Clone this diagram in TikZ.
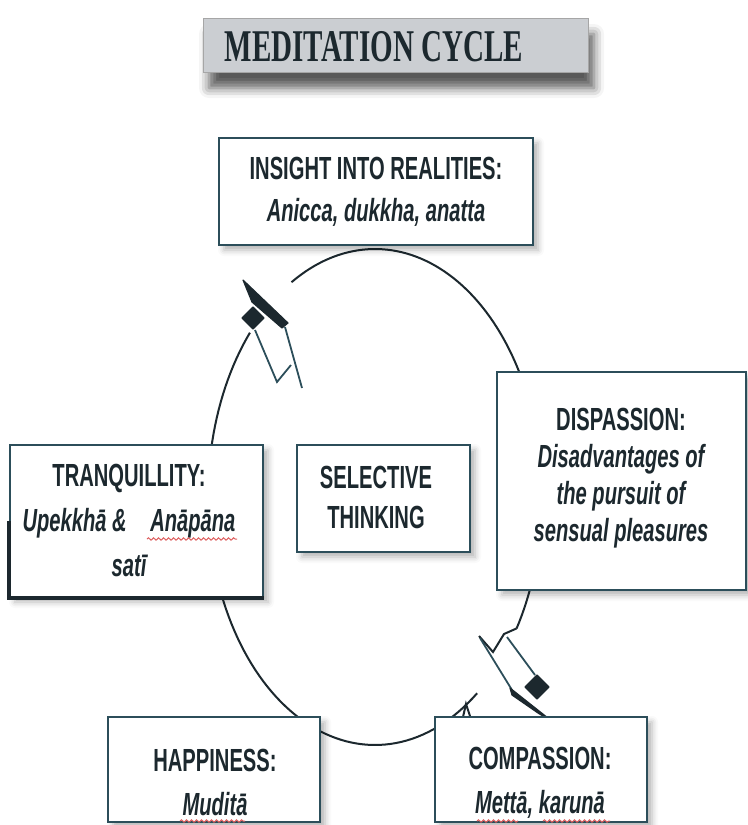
\documentclass[tikz,border=0pt]{standalone}
\usepackage{fontspec}
\newfontfamily\boxfont[FakeStretch=0.63]{Liberation Sans}
\newfontfamily\titlefont[FakeStretch=0.64]{Liberation Serif}
\usetikzlibrary{shadows.blur,decorations.pathmorphing}
\definecolor{inkdark}{RGB}{28,40,46}
\definecolor{boxline}{RGB}{44,78,90}
\definecolor{titlegray}{RGB}{203,206,210}
\definecolor{squiggle}{RGB}{222,96,96}

\begin{document}
\begin{tikzpicture}[x=0.5pt,y=-0.5pt,
  box/.style={draw=boxline,line width=1pt,fill=white,rectangle,inner sep=0pt,
    blur shadow={shadow xshift=2.5pt,shadow yshift=-2.5pt,shadow opacity=30,shadow blur radius=3pt}},
  txt/.style={align=center,text=inkdark,inner sep=0pt,font=\boxfont\bfseries\fontsize{16}{21}\selectfont},
  ring/.style={draw=inkdark,line width=1pt},
  headfill/.style={fill=inkdark,draw=inkdark,line width=0.6pt,line join=round},
  shaft/.style={draw=boxline,line width=0.9pt},
  spell/.style={draw=squiggle,line width=0.5pt,decorate,
    decoration={snake,amplitude=0.6pt,segment length=2.5pt}}]
\useasboundingbox (0,0) rectangle (748,825);

% title
\node[draw=gray!70,fill=titlegray,minimum width=192.5pt,minimum height=27pt,
  blur shadow={shadow xshift=3pt,shadow yshift=-8pt,shadow opacity=65,shadow blur radius=5pt}]
  (title) at (395.5,45) {};
\node[text=inkdark,font=\titlefont\bfseries\fontsize{22.7}{26}\selectfont] (titletext) at (374,47) {MEDITATION CYCLE};

% the cycle
\draw[ring] plot[domain=240:392,samples=90] ({375+167*cos(\x)},{497+248*sin(\x)}) coordinate (ringend);
\draw[ring] plot[domain=52.3:221.5,samples=90] ({375+167*cos(\x)},{497+248*sin(\x)});

% upper left arrow
\fill[headfill] (243,280) -- (288,323) -- (282,328) -- (252,302) -- cycle;
\fill[headfill] (253,307) -- (264,318) -- (253,329) -- (242,318) -- cycle;
\draw[shaft] (255,330) -- (277,382) -- (291,365);
\draw[shaft] (285,327) -- (302,388);

% lower right arrow
\draw[ring] (ringend) -- (504,634) -- (493,652) -- (479,636);
\draw[shaft] (480,638) -- (512,690);
\draw[shaft] (507,637) -- (535,675);
\fill[headfill] (537,675) -- (549,687) -- (537,699) -- (525,687) -- cycle;
\fill[headfill] (510,688) -- (553,722) -- (538,713) -- (512,695) -- cycle;
\draw[ring] (463,717) -- (466,704) -- (470,716);

% boxes
\node[box,minimum width=157pt,minimum height=53.5pt] (insight) at (376,191.5) {};
\node[txt] (insightT) at (insight) {INSIGHT INTO REALITIES:\\{\itshape Anicca, dukkha, anatta}};

\node[box,minimum width=124.5pt,minimum height=109pt] (dispassion) at (621.5,481) {};
\node[txt,font=\boxfont\bfseries\fontsize{16}{18.5}\selectfont] (dispassionT) at (621,478)
  {DISPASSION:\\{\itshape Disadvantages of}\\{\itshape the pursuit of}\\{\itshape sensual pleasures}};

\node[box,minimum width=126.5pt,minimum height=76pt] (tranq) at (136.5,521) {};
\draw[inkdark,line width=1.6pt] (tranq.west) -- (tranq.south west) -- (tranq.south east);
\node[txt,font=\boxfont\bfseries\fontsize{16}{22.5}\selectfont] (tranqT) at (129,520)
  {TRANQUILLITY:\\{\itshape Upekkhā \&\hspace{9pt} Anāpāna}\\{\itshape satī}};

\node[box,minimum width=86.5pt,minimum height=53.5pt] (selective) at (383.5,498.5) {};
\node[txt,font=\boxfont\bfseries\fontsize{16}{20}\selectfont] (selectiveT) at (376,497) {SELECTIVE\\THINKING};

\node[box,minimum width=106pt,minimum height=52.5pt] (happy) at (214,769.5) {};
\node[txt,font=\boxfont\bfseries\fontsize{16}{22}\selectfont] (happyT) at (215,782) {HAPPINESS:\\{\itshape Muditā}};

\node[box,minimum width=106pt,minimum height=52.5pt] (compassion) at (541,769.5) {};
\node[txt,font=\boxfont\bfseries\fontsize{16}{22}\selectfont] (compassionT) at (540,783) {COMPASSION:\\{\itshape Mettā, karunā}};

% spelling marks
\draw[spell] (147,539) -- (237,539);
\draw[spell] (180,821) -- (245,821);
\draw[spell] (477,821) -- (518,821);
\draw[spell] (543,821) -- (610,821);
\end{tikzpicture}
\end{document}
